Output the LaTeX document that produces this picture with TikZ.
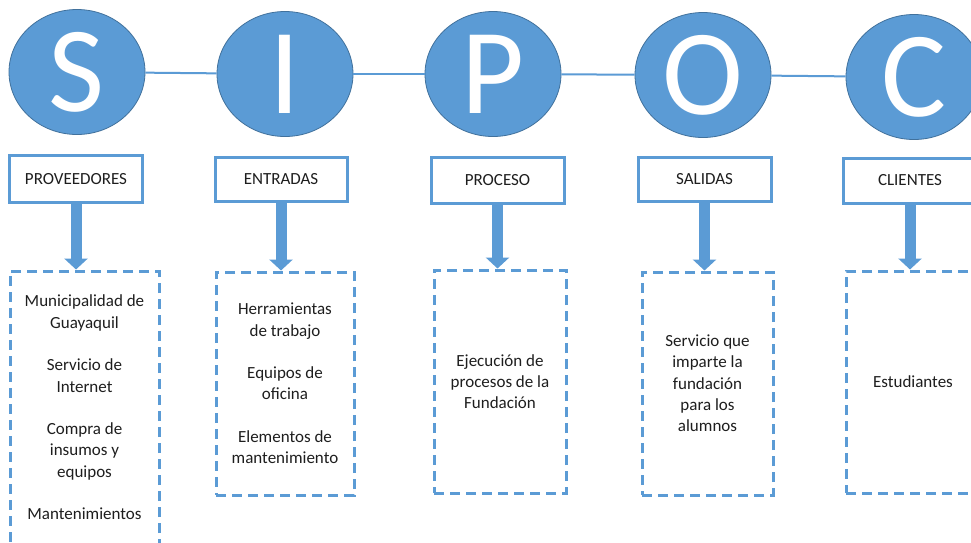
\documentclass[tikz,border=0pt]{standalone}
\usepackage{fontspec}
\setmainfont{Carlito}
\usetikzlibrary{shapes.geometric,arrows.meta,calc}
\definecolor{sblue}{RGB}{91,155,213}
\definecolor{sdark}{RGB}{65,113,156}
\definecolor{stext}{RGB}{30,30,30}
\begin{document}
\begin{tikzpicture}[x=1pt,y=-1pt,
  letter/.style={ellipse,fill=sblue,draw=sdark,line width=0.8pt,minimum width=136pt,minimum height=125pt,inner sep=0pt,text=white,font=\fontsize{122}{122}\selectfont},
  link/.style={draw=sblue,line width=2pt},
  labelbox/.style={rectangle,draw=sblue,line width=3pt,fill=white,minimum width=133pt,minimum height=46pt,inner sep=0pt,text=stext,font=\fontsize{17}{20}\selectfont},
  listbox/.style={rectangle,draw=sblue,line width=3pt,dash pattern=on 10pt off 6pt,inner sep=0pt,align=center,text=stext,font=\fontsize{17}{21.3}\selectfont},
  blockarrow/.style={draw=sblue,line width=11pt,-{Triangle[width=23pt,length=11pt]}}
]
\clip (0,0) rectangle (971,542);
\fill[white] (0,0) rectangle (971,542);

% circles
\node[letter] (S) at (77,72) {S};
\node[letter] (I) at (285,74) {I};
\node[letter] (P) at (493,74) {P};
\node[letter] (O) at (703,75) {O};
\node[letter] (C) at (914,77) {C};
\draw[link] (S) -- (I);
\draw[link] (I) -- (P);
\draw[link] (P) -- (O);
\draw[link] (O) -- (C);

% label boxes
\node[labelbox,minimum height=47pt] (l1) at (76,179) {PROVEEDORES};
\node[labelbox,minimum width=132pt,minimum height=44pt] (l2) at (281,179) {ENTRADAS};
\node[labelbox] (l3) at (497.5,180) {PROCESO};
\node[labelbox,minimum height=44pt] (l4) at (704.5,179) {SALIDAS};
\node[labelbox,minimum height=45pt] (l5) at (910,180.5) {CLIENTES};

% list boxes
\node[listbox,minimum width=149pt,minimum height=273pt] (d1) at (84.5,407.5)
  {Municipalidad de\\Guayaquil\\[21.3pt]Servicio de\\Internet\\[21.3pt]Compra de\\insumos y\\equipos\\[21.3pt]Mantenimientos};
\node[listbox,minimum width=138pt,minimum height=223pt] (d2) at (285,383.5)
  {Herramientas\\de trabajo\\[21.3pt]Equipos de\\oficina\\[21.3pt]Elementos de\\mantenimiento};
\node[listbox,minimum width=132pt,minimum height=223pt] (d3) at (500,381.5)
  {Ejecución de\\procesos de la\\Fundación};
\node[listbox,minimum width=131pt,minimum height=223pt] (d4) at (707.5,383.5)
  {Servicio que\\imparte la\\fundación\\para los\\alumnos};
\node[listbox,minimum width=134pt,minimum height=222pt] (d5) at (913,382)
  {Estudiantes};

% block arrows
\draw[blockarrow] (l1.south) -- (l1.south |- d1.north);
\draw[blockarrow] (l2.south) -- (l2.south |- d2.north);
\draw[blockarrow] (l3.south) -- (l3.south |- d3.north);
\draw[blockarrow] (l4.south) -- (l4.south |- d4.north);
\draw[blockarrow] (l5.south) -- (l5.south |- d5.north);
\end{tikzpicture}
\end{document}
